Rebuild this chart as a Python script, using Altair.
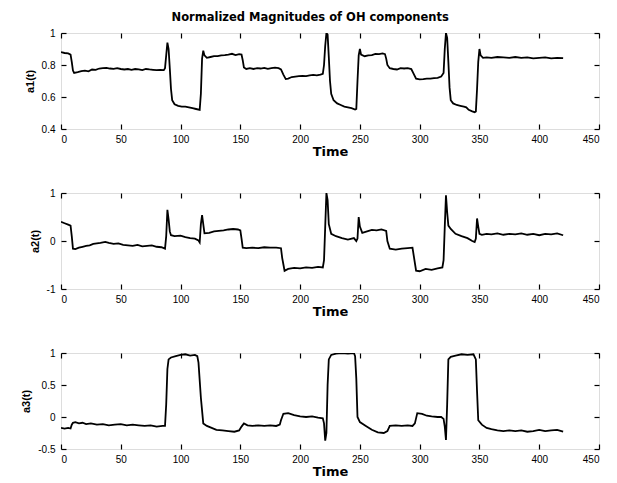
import altair as alt
import pandas as pd

# ---------------- data ----------------
a1_t = [0, 3, 6, 8, 9, 10, 11, 14, 17, 20, 23, 26, 29, 32, 35, 38, 41, 44, 47, 50, 53, 56, 59, 62, 65, 68, 71, 74, 77, 80, 83, 86,
        87, 88, 89, 90, 91, 92, 93, 95, 98, 101, 104, 107, 110, 113, 116, 117, 118, 119, 120, 122, 125, 128, 131, 134, 137, 140,
        143, 146, 149, 151, 152, 153, 155, 158, 161, 164, 167, 170, 173, 176, 179, 182, 184, 186, 188, 190, 193, 196, 199, 202,
        205, 208, 211, 214, 217, 219, 220, 221, 222, 223, 224, 225, 226, 228, 231, 234, 237, 240, 243, 246, 247, 248, 249, 250,
        251, 254, 257, 260, 263, 266, 269, 271, 272, 273, 275, 278, 281, 284, 287, 290, 293, 295, 297, 300, 303, 306, 309, 312,
        315, 318, 320, 321, 322, 323, 324, 325, 326, 328, 331, 334, 337, 339, 341, 344, 346, 347, 348, 349, 350, 351, 353, 356,
        360, 365, 370, 375, 380, 385, 390, 395, 400, 405, 410, 415, 420]
a1_v = [0.88, 0.875, 0.872, 0.865, 0.82, 0.765, 0.75, 0.755, 0.762, 0.765, 0.76, 0.772, 0.77, 0.778, 0.78, 0.782, 0.778, 0.776,
        0.78, 0.775, 0.772, 0.775, 0.77, 0.775, 0.772, 0.768, 0.775, 0.772, 0.77, 0.768, 0.77, 0.768,
        0.78, 0.86, 0.94, 0.90, 0.78, 0.65, 0.58, 0.555, 0.545, 0.54, 0.54, 0.535, 0.53, 0.525, 0.52, 0.62, 0.84, 0.89, 0.86,
        0.845, 0.85, 0.855, 0.855, 0.86, 0.862, 0.865, 0.87, 0.862, 0.868, 0.865, 0.83, 0.785, 0.775, 0.78, 0.775, 0.78, 0.778,
        0.782, 0.776, 0.78, 0.783, 0.78, 0.772, 0.74, 0.712, 0.715, 0.725, 0.728, 0.73, 0.732, 0.73, 0.735, 0.738, 0.735, 0.74,
        0.745, 0.80, 0.92, 1.0, 0.99, 0.85, 0.70, 0.62, 0.58, 0.56, 0.55, 0.54, 0.535, 0.53, 0.522, 0.525, 0.70, 0.86, 0.90,
        0.865, 0.855, 0.86, 0.862, 0.87, 0.868, 0.872, 0.868, 0.84, 0.80, 0.78, 0.775, 0.772, 0.78, 0.778, 0.78, 0.775, 0.745,
        0.715, 0.71, 0.712, 0.715, 0.715, 0.718, 0.72, 0.728, 0.75, 0.90, 1.0, 0.97, 0.82, 0.66, 0.58, 0.56, 0.55, 0.545, 0.54,
        0.535, 0.52, 0.51, 0.505, 0.51, 0.65, 0.82, 0.90, 0.86, 0.845, 0.848, 0.845, 0.85, 0.848, 0.845, 0.85, 0.845, 0.848,
        0.842, 0.845, 0.848, 0.842, 0.845, 0.843]

a2_t = [0, 3, 6, 8, 9, 10, 12, 15, 18, 21, 24, 27, 30, 33, 37, 40, 44, 48, 52, 56, 60, 64, 68, 72, 76, 80, 84, 87,
        88, 89, 90, 91, 92, 95, 100, 104, 108, 112, 115, 116, 117, 118, 120, 124, 128, 132, 136, 140, 144, 148, 150, 151,
        152, 155, 160, 165, 170, 175, 180, 184, 185, 187, 190, 195, 200, 205, 210, 215, 219, 220, 221, 222, 223, 224, 226,
        230, 235, 240, 245, 247, 248, 249, 250, 252, 256, 260, 264, 268, 272, 273, 275, 280, 285, 290, 294, 295, 297, 300,
        305, 310, 315, 319, 320, 321, 322, 323, 324, 326, 330, 335, 340, 344, 346, 347, 348, 349, 350, 352, 356, 360, 365,
        370, 375, 380, 385, 390, 395, 400, 405, 410, 415, 420]
a2_v = [0.40, 0.37, 0.34, 0.32, 0.10, -0.16, -0.17, -0.14, -0.12, -0.10, -0.09, -0.06, -0.05, -0.04, -0.02, -0.04, -0.06,
        -0.05, -0.08, -0.09, -0.10, -0.08, -0.11, -0.10, -0.09, -0.12, -0.13, -0.16,
        0.10, 0.65, 0.45, 0.20, 0.12, 0.10, 0.11, 0.08, 0.06, 0.05, 0.01, -0.03, 0.35, 0.54, 0.16, 0.17, 0.20, 0.21, 0.22,
        0.24, 0.25, 0.24, 0.22, 0.05, -0.14, -0.15, -0.14, -0.15, -0.13, -0.14, -0.14, -0.15, -0.35, -0.62, -0.58, -0.56,
        -0.57, -0.55, -0.56, -0.54, -0.55, -0.40, 0.30, 1.0, 0.85, 0.35, 0.15, 0.10, 0.06, 0.03, 0.06, 0.00, 0.05, 0.50,
        0.30, 0.17, 0.20, 0.23, 0.22, 0.24, 0.21, 0.00, -0.16, -0.18, -0.16, -0.15, -0.14, -0.30, -0.62, -0.63, -0.58,
        -0.60, -0.57, -0.55, -0.40, 0.30, 0.95, 0.60, 0.32, 0.25, 0.15, 0.10, 0.06, 0.00, -0.02, 0.05, 0.47, 0.30, 0.15,
        0.13, 0.15, 0.14, 0.16, 0.13, 0.15, 0.14, 0.16, 0.13, 0.15, 0.12, 0.15, 0.14, 0.16, 0.12]

a3_t = [0, 3, 6, 8, 9, 10, 12, 15, 18, 21, 25, 30, 35, 40, 45, 50, 55, 60, 65, 70, 75, 80, 85, 87, 88, 89, 90, 92, 96,
        100, 104, 108, 112, 114, 115, 117, 119, 122, 126, 130, 135, 140, 145, 149, 151, 153, 156, 160, 165, 170, 175, 180,
        183, 184, 186, 190, 195, 200, 205, 210, 215, 219, 220, 221, 222, 223, 224, 226, 230, 235, 240, 245, 246, 247, 248,
        250, 255, 260, 265, 270, 273, 275, 280, 285, 290, 294, 296, 298, 302, 306, 310, 315, 318, 320, 321, 322, 323, 324,
        326, 330, 335, 340, 345, 347, 348, 349, 352, 356, 360, 365, 370, 375, 380, 385, 390, 395, 400, 405, 410, 415, 420]
a3_v = [-0.17, -0.18, -0.17, -0.18, -0.12, -0.09, -0.08, -0.10, -0.09, -0.11, -0.10, -0.12, -0.11, -0.13, -0.12, -0.11,
        -0.13, -0.12, -0.13, -0.14, -0.13, -0.15, -0.14, -0.14, 0.20, 0.75, 0.90, 0.93, 0.95, 0.97, 0.98, 0.96, 0.97, 0.95,
        0.85, 0.30, -0.10, -0.14, -0.17, -0.20, -0.21, -0.22, -0.23, -0.21, -0.15, -0.10, -0.13, -0.14, -0.13, -0.14, -0.13,
        -0.14, -0.12, -0.05, 0.05, 0.06, 0.03, 0.01, 0.00, 0.01, -0.01, -0.02, -0.10, -0.37, -0.25, 0.50, 0.90, 0.97, 0.99,
        1.0, 0.99, 1.0, 0.95, 0.60, 0.00, -0.08, -0.14, -0.20, -0.24, -0.25, -0.22, -0.14, -0.13, -0.14, -0.13, -0.14,
        -0.10, 0.06, 0.05, 0.02, 0.01, 0.00, 0.00, -0.03, -0.15, -0.36, 0.20, 0.90, 0.94, 0.96, 0.98, 0.97, 0.98, 0.90,
        0.40, -0.05, -0.12, -0.17, -0.19, -0.21, -0.22, -0.21, -0.22, -0.21, -0.23, -0.22, -0.20, -0.22, -0.21, -0.20,
        -0.23]

x_ticks = [0, 50, 100, 150, 200, 250, 300, 350, 400, 450]
a1_ticks = [0.4, 0.6, 0.8, 1]
a2_ticks = [-1, 0, 1]
a3_ticks = [-0.5, 0, 0.5, 1]

chart_title = "Normalized Magnitudes of OH components"
x_title = "Time"

WIDE = "DejaVu Sans"
NARROW = "Liberation Sans"


def panel(ts, vs, ylabel, ydomain, yticks):
    df = pd.DataFrame({"t": ts, "v": vs})
    xs = alt.Scale(domain=[0, 450], nice=False, zero=False)
    ys = alt.Scale(domain=ydomain, nice=False, zero=False)
    common = dict(offset=-5, tickSize=5, tickColor="black", tickWidth=1.2, domain=False, grid=False)
    line = alt.Chart(df).mark_line(color="black", strokeWidth=1.8, clip=True).encode(
        x=alt.X("t:Q", scale=xs, axis=alt.Axis(orient="bottom", values=x_ticks, format="d", title=x_title,
                                                labelPadding=5, titlePadding=1, titleFont=WIDE, titleFontSize=13,
                                                **common)),
        y=alt.Y("v:Q", scale=ys, axis=alt.Axis(orient="left", values=yticks, labelExpr="toString(datum.value)",
                                                title=ylabel, labelPadding=6, titlePadding=6, titleFont=NARROW,
                                                titleFontSize=11, **common)),
    )
    frame = alt.Chart(df).mark_line(opacity=0).encode(
        x=alt.X("t:Q", scale=xs, axis=alt.Axis(orient="top", values=x_ticks, labels=False, title=None, **common)),
        y=alt.Y("v:Q", scale=ys, axis=alt.Axis(orient="right", values=yticks, labels=False, title=None, **common)),
    )
    return alt.layer(line, frame).resolve_axis(x="independent", y="independent").properties(width=538, height=96)


p1 = panel(a1_t, a1_v, "a1(t)", [0.4, 1], a1_ticks)
p2 = panel(a2_t, a2_v, "a2(t)", [-1, 1], a2_ticks)
p3 = panel(a3_t, a3_v, "a3(t)", [-0.5, 1], a3_ticks)

chart = alt.vconcat(p1, p2, p3, spacing=64, bounds="flush").properties(
    title=alt.TitleParams(chart_title, font=WIDE, fontSize=11.5, fontWeight="bold", anchor="middle", offset=4),
    padding={"left": 20, "top": 12, "right": 5, "bottom": 5},
).configure_view(stroke="black", strokeWidth=1.4).configure_axis(
    labelFont=WIDE, labelFontSize=12.5, labelFontWeight="bold", labelColor="black",
    titleFontWeight="bold", titleColor="black",
).configure(background="white")

chart.save("out.html", embed_options={"renderer": "svg", "actions": False})
